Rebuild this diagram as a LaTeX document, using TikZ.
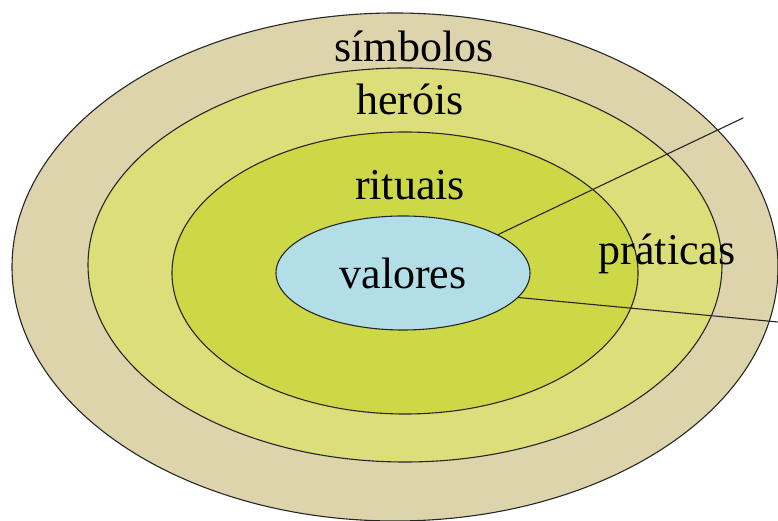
\documentclass[tikz,border=0pt]{standalone}
\usepackage{fontspec}
\setmainfont{Liberation Serif}
\usetikzlibrary{shapes.geometric}

\definecolor{simbcolor}{HTML}{DDD4AC}
\definecolor{heroicolor}{HTML}{DCDE7A}
\definecolor{ritualcolor}{HTML}{CDD846}
\definecolor{valorcolor}{HTML}{B2DEE8}

\begin{document}
\begin{tikzpicture}[
  x=1pt,
  y=1pt,
  line cap=round,
  line join=round,
  layer/.style={draw=black!85, line width=1.1pt},
  camada/.style={font=\fontsize{44}{50}\selectfont, anchor=base, inner sep=0pt}
]
  \useasboundingbox (0,0) rectangle (778,521);

  % Camada externa: simbolos
  \fill[simbcolor] (395,254) ellipse[x radius=383, y radius=254];
  \draw[layer] (395,254) ellipse[x radius=383, y radius=254];

  % Segunda camada: herois
  \filldraw[layer, fill=heroicolor]
    (405,256) ellipse[x radius=317, y radius=197];

  % Terceira camada: rituais
  \filldraw[layer, fill=ritualcolor]
    (405,248) ellipse[x radius=233, y radius=141];

  % Nucleo: valores
  \node[
    ellipse,
    layer,
    fill=valorcolor,
    minimum width=254,
    minimum height=114,
    inner sep=0pt,
    font=\fontsize{44}{50}\selectfont
  ] (valores) at (403,248) {valores};

  \node[camada] (simbolos) at (414,459) {símbolos};
  \node[camada] (herois)   at (410,406) {heróis};
  \node[camada] (rituais)  at (410,321) {rituais};
  \node[camada] (praticas) at (667,256) {práticas};

  % Linhas que delimitam as praticas
  \coordinate (PS) at (743,403);
  \coordinate (PI) at (778,199);

  \draw[layer] (valores.22) -- (PS);
  \draw[layer] (valores.-12) -- (PI);
\end{tikzpicture}
\end{document}
